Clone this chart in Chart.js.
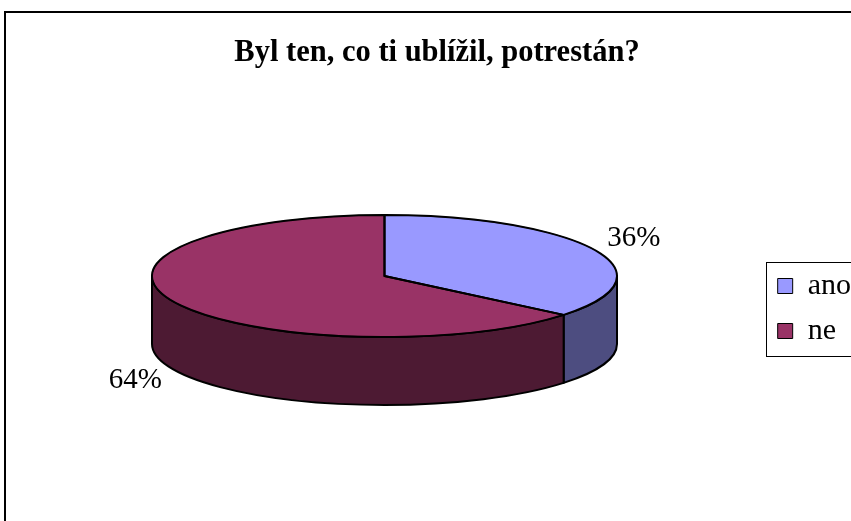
<!DOCTYPE html>
<html>
<head>
<meta charset="utf-8">
<script src="https://cdn.jsdelivr.net/npm/chart.js@4"></script>
<style>
  html, body { margin: 0; padding: 0; background: #fff; overflow: hidden; }
  canvas { display: block; }
</style>
</head>
<body>
<canvas id="myChart" width="880" height="620"></canvas>
<script>
const labels = ["ano", "ne"];
const values = [36, 64];
const topColors = ["#9999FF", "#993366"];
const sideColors = ["#4D4D80", "#4D1A33"];

const serif = "'Liberation Serif', 'Times New Roman', serif";

// how the flat pie is laid into the tilted 3D disc
const view = { cx: 384.5, cy: 276, rx: 232.5, ry: 61, depth: 68 };

function sidePath(ctx, a1, a2) {
  const { cx, cy, rx, ry, depth } = view;
  ctx.beginPath();
  ctx.ellipse(cx, cy, rx, ry, 0, a1, a2);
  ctx.lineTo(cx + rx * Math.cos(a2), cy + ry * Math.sin(a2) + depth);
  ctx.ellipse(cx, cy + depth, rx, ry, 0, a2, a1, true);
  ctx.closePath();
}

function topPath(ctx, a1, a2) {
  const { cx, cy, rx, ry } = view;
  ctx.beginPath();
  ctx.moveTo(cx, cy);
  ctx.ellipse(cx, cy, rx, ry, 0, a1, a2);
  ctx.closePath();
}

const pie3d = {
  id: 'pie3d',
  beforeDatasetsDraw(chart) {
    const ctx = chart.ctx;
    const arcs = chart.getDatasetMeta(0).data;

    // front wall, only the half facing us
    ctx.save();
    ctx.lineWidth = 2;
    ctx.strokeStyle = '#000';
    ctx.lineJoin = 'round';
    arcs.forEach((arc, i) => {
      [-2 * Math.PI, 0, 2 * Math.PI].forEach(off => {
        const a1 = Math.max(arc.startAngle + off, 0);
        const a2 = Math.min(arc.endAngle + off, Math.PI);
        if (a2 > a1) {
          sidePath(ctx, a1, a2);
          ctx.fillStyle = sideColors[i];
          ctx.fill();
          ctx.stroke();
        }
      });
    });
    ctx.restore();

    // squash the round pie of Chart.js onto the top ellipse
    const a = arcs[0];
    ctx.save();
    ctx.translate(view.cx, view.cy);
    ctx.scale(view.rx / a.outerRadius, view.ry / a.outerRadius);
    ctx.translate(-a.x, -a.y);
  },
  afterDatasetsDraw(chart) {
    const ctx = chart.ctx;
    ctx.restore();
    const arcs = chart.getDatasetMeta(0).data;

    ctx.save();
    ctx.lineWidth = 2;
    ctx.strokeStyle = '#000';
    ctx.lineJoin = 'round';
    arcs.forEach(arc => {
      topPath(ctx, arc.startAngle, arc.endAngle);
      ctx.stroke();
    });

    // percentage labels outside the disc
    const total = values.reduce((s, v) => s + v, 0);
    ctx.fillStyle = '#000';
    ctx.font = '29px ' + serif;
    ctx.textAlign = 'center';
    ctx.textBaseline = 'middle';
    arcs.forEach((arc, i) => {
      const mid = (arc.startAngle + arc.endAngle) / 2;
      const c = Math.cos(mid), s = Math.sin(mid);
      const x = view.cx + (view.rx + 43) * c;
      const y = view.cy + (view.ry + 26) * s + (s > 0 ? view.depth : 0) - 1;
      ctx.fillText(Math.round(values[i] / total * 100) + '%', x, y);
    });
    ctx.restore();
  },
  afterDraw(chart) {
    const ctx = chart.ctx;
    ctx.save();
    // chart area frame
    ctx.strokeStyle = '#000';
    ctx.lineWidth = 2;
    ctx.strokeRect(5, 12, 1000, 1000);

    // legend frame
    const lg = chart.legend;
    const pad = lg.options.labels.padding;
    const start = (lg.top + pad + lg.bottom - lg.columnSizes[0].height) / 2;
    const boxX = lg.left + pad;
    ctx.lineWidth = 1;
    ctx.strokeRect(Math.round(boxX - 12) + 0.5, Math.round(start - 9.5) + 0.5, 200, 94);
    ctx.restore();
  }
};

const ctx = document.getElementById('myChart');

new Chart(ctx, {
  type: 'pie',
  data: {
    labels: labels,
    datasets: [{
      data: values,
      backgroundColor: topColors,
      borderColor: '#000',
      borderWidth: 1
    }]
  },
  options: {
    responsive: false,
    animation: false,
    events: [],
    layout: {
      padding: { top: 21, left: 13, right: 19, bottom: 24 }
    },
    plugins: {
      tooltip: { enabled: false },
      title: {
        display: true,
        text: 'Byl ten, co ti ublížil, potrestán?',
        color: '#000',
        font: { family: serif, size: 30.5, weight: 'bold', lineHeight: 1.2 },
        padding: { top: 14, bottom: 8 }
      },
      legend: {
        display: true,
        position: 'right',
        labels: {
          color: '#000',
          boxWidth: 15,
          boxHeight: 15,
          padding: 15,
          font: { family: "'Liberation Serif', serif", size: 30 }
        }
      }
    }
  },
  plugins: [pie3d]
});
</script>
</body>
</html>
